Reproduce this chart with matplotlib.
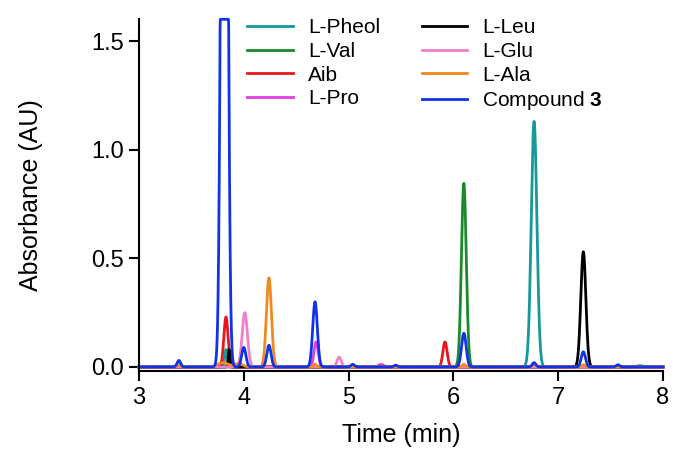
"""
Chromatogram overlay: Compound 3 against amino-acid reference standards.
Each trace is built from its peak table (retention time, height, width).
"""

import matplotlib
matplotlib.use("Agg")
import matplotlib.pyplot as plt
import numpy as np

plt.rcParams["font.family"] = ["Liberation Sans", "DejaVu Sans"]
plt.rcParams["mathtext.fontset"] = "custom"
plt.rcParams["mathtext.bf"] = "Liberation Sans:bold"
plt.rcParams["mathtext.rm"] = "Liberation Sans"

# detector saturates here
DETECTOR_MAX = 1.6

# retention time grid (min)
time = np.linspace(3.0, 8.0, 2501)

# peak tables: retention time (min), height (AU), sigma (min)
pheol_rt = [3.83, 6.77, 7.78]
pheol_h = [0.08, 1.13, 0.006]
pheol_w = [0.012, 0.027, 0.03]

val_rt = [6.10]
val_h = [0.845]
val_w = [0.023]

aib_rt = [3.83, 5.92]
aib_h = [0.23, 0.115]
aib_w = [0.02, 0.02]

pro_rt = [3.87, 4.69, 5.31]
pro_h = [0.04, 0.115, 0.012]
pro_w = [0.015, 0.02, 0.025]

leu_rt = [3.86, 7.24]
leu_h = [0.08, 0.53]
leu_w = [0.008, 0.024]

glu_rt = [4.01, 4.91]
glu_h = [0.25, 0.045]
glu_w = [0.025, 0.02]

ala_rt = [3.38, 3.80, 3.95, 4.24, 4.68, 6.10, 6.77, 7.24]
ala_h = [0.01, 0.02, 0.015, 0.41, 0.012, 0.012, 0.012, 0.01]
ala_w = [0.015, 0.05, 0.04, 0.024, 0.015, 0.015, 0.015, 0.015]

cpd_rt = [3.38, 3.815, 4.00, 4.24, 4.68, 5.04, 5.45, 6.10, 6.77, 7.24, 7.57]
cpd_h = [0.03, 6.0, 0.09, 0.10, 0.30, 0.012, 0.008, 0.155, 0.02, 0.07, 0.01]
cpd_w = [0.017, 0.025, 0.02, 0.02, 0.022, 0.017, 0.017, 0.022, 0.017, 0.02, 0.017]

traces = [
    ("L-Pheol", pheol_rt, pheol_h, pheol_w, "#17999a"),
    ("L-Val", val_rt, val_h, val_w, "#1b8a2a"),
    ("Aib", aib_rt, aib_h, aib_w, "#e8161d"),
    ("L-Pro", pro_rt, pro_h, pro_w, "#e23fe0"),
    ("L-Leu", leu_rt, leu_h, leu_w, "#000000"),
    ("L-Glu", glu_rt, glu_h, glu_w, "#f27fc9"),
    ("L-Ala", ala_rt, ala_h, ala_w, "#f0891f"),
    ("Compound $\\mathbf{3}$", cpd_rt, cpd_h, cpd_w, "#1133e6"),
]


def trace(rts, heights, widths):
    signal = np.zeros_like(time)
    for rt, h, w in zip(rts, heights, widths):
        signal += h * np.exp(-0.5 * ((time - rt) / w) ** 2)
    return np.minimum(signal, DETECTOR_MAX)


fig = plt.figure(figsize=(6.73, 4.58), dpi=100)
ax = fig.add_axes([0.2065, 0.1893, 0.7786, 0.7686])

for name, rts, heights, widths, color in traces:
    ax.plot(time, trace(rts, heights, widths), color=color, lw=2.0,
            label=name, clip_on=False, solid_joinstyle="round")

ax.set_xlim(3, 8)
ax.set_ylim(-0.02, 1.6)
ax.set_xticks([3, 4, 5, 6, 7, 8])
ax.set_yticks([0.0, 0.5, 1.0, 1.5])
ax.set_yticklabels(["0.0", "0.5", "1.0", "1.5"])

for side in ("top", "right"):
    ax.spines[side].set_visible(False)
for side in ("left", "bottom"):
    ax.spines[side].set_linewidth(1.5)
ax.tick_params(axis="both", direction="out", length=7, width=1.5,
               labelsize=17, pad=4)

ax.set_xlabel("Time (min)", fontsize=18)
ax.set_ylabel("Absorbance (AU)", fontsize=18)
ax.xaxis.set_label_coords(0.5, -0.148)
ax.yaxis.set_label_coords(-0.183, 0.5)

fig.legend(loc="upper left", bbox_to_anchor=(237 / 673, 1 - 8 / 458),
           ncol=2, frameon=False, fontsize=15, borderpad=0,
           handlelength=2.2, handletextpad=0.7, columnspacing=2.0,
           labelspacing=0.22)

fig.savefig("out.png", dpi=100, facecolor="white")
